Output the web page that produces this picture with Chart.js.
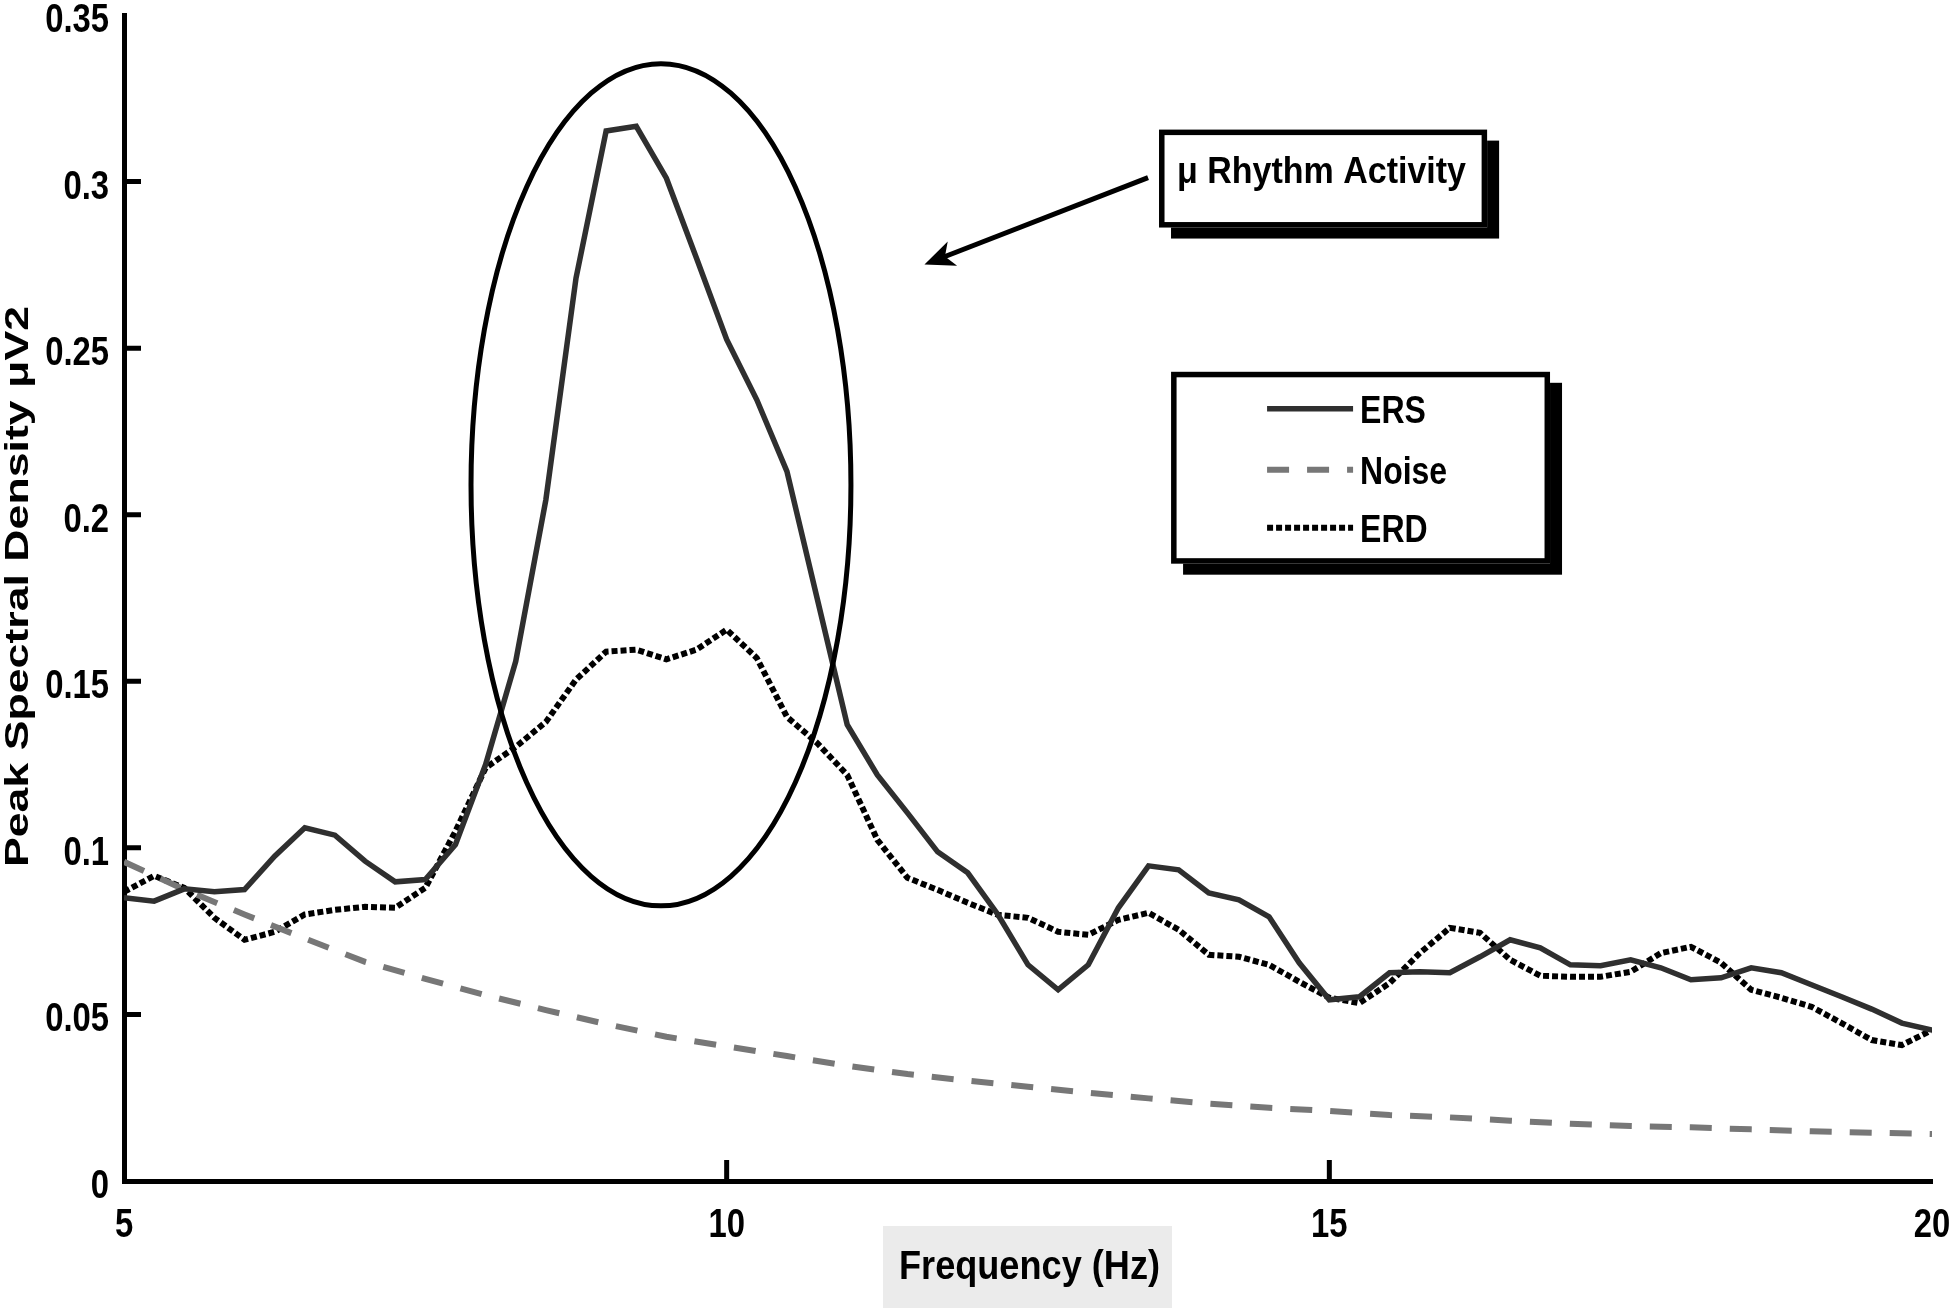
<!DOCTYPE html>
<html>
<head>
<meta charset="utf-8">
<title>Peak Spectral Density</title>
<script src="https://cdn.jsdelivr.net/npm/chart.js@4.4.1/dist/chart.umd.min.js"></script>
<style>
  html, body { margin: 0; padding: 0; background: #fff; }
  canvas { display: block; }
</style>
</head>
<body>
<canvas id="myChart" width="1950" height="1308"></canvas>
<script>
// frequencies (Hz) of the ERS / ERD estimates
const freqs = [5, 5.25, 5.5, 5.75, 6, 6.25, 6.5, 6.75, 7, 7.25, 7.5, 7.75, 8, 8.25, 8.5, 8.75,
  9, 9.25, 9.5, 9.75, 10, 10.25, 10.5, 10.75, 11, 11.25, 11.5, 11.75, 12, 12.25, 12.5, 12.75,
  13, 13.25, 13.5, 13.75, 14, 14.25, 14.5, 14.75, 15, 15.25, 15.5, 15.75, 16, 16.25, 16.5, 16.75,
  17, 17.25, 17.5, 17.75, 18, 18.25, 18.5, 18.75, 19, 19.25, 19.5, 19.75, 20];

const ers = [0.085, 0.084, 0.0877, 0.0868, 0.0875, 0.0975, 0.106, 0.1038, 0.096, 0.0898, 0.0905, 0.101,
  0.125, 0.156, 0.2045, 0.271, 0.3152, 0.3166, 0.301, 0.277, 0.2526, 0.2345, 0.213, 0.175,
  0.137, 0.1219, 0.1105, 0.0988, 0.0925, 0.080, 0.0649, 0.0574, 0.0649, 0.082, 0.0946, 0.0934,
  0.0865, 0.0844, 0.0793, 0.0655, 0.0544, 0.0553, 0.0625, 0.0628, 0.0625, 0.0673, 0.0724, 0.070,
  0.0649, 0.0646, 0.0664, 0.064, 0.0604, 0.061, 0.064, 0.0625, 0.0589, 0.0553, 0.0516, 0.0474, 0.0453];

const erd = [0.0868, 0.0916, 0.088, 0.079, 0.0724, 0.0748, 0.080, 0.0814, 0.0823, 0.082, 0.088, 0.105,
  0.124, 0.1303, 0.1378, 0.1505, 0.1589, 0.1595, 0.1566, 0.1595, 0.1655, 0.157, 0.1393, 0.1315,
  0.1219, 0.1024, 0.091, 0.0874, 0.0835, 0.0799, 0.079, 0.0748, 0.0739, 0.0784, 0.0805, 0.0754,
  0.0679, 0.0673, 0.0649, 0.0598, 0.055, 0.0534, 0.0594, 0.0684, 0.076, 0.0745, 0.0664, 0.0616,
  0.0613, 0.0613, 0.0628, 0.0684, 0.0703, 0.0655, 0.0574, 0.055, 0.0523, 0.0474, 0.0423, 0.0408, 0.0453];

const noiseFreqs = [5, 5.5, 6, 6.5, 7, 7.5, 8, 8.5, 9, 9.5, 10, 10.5, 11, 11.5, 12, 12.5,
  13, 13.5, 14, 14.5, 15, 15.5, 16, 16.5, 17, 17.5, 18, 18.5, 19, 19.5, 20];
const noise = [0.0958, 0.0875, 0.080, 0.0728, 0.0658, 0.0607, 0.0558, 0.0513, 0.0471, 0.0433, 0.0404,
  0.0375, 0.0346, 0.0321, 0.0301, 0.0283, 0.0265, 0.0248, 0.0232, 0.022, 0.021, 0.0198, 0.0191,
  0.0181, 0.0172, 0.0165, 0.0161, 0.0155, 0.0149, 0.0145, 0.0141];

const xTicks = [5, 10, 15, 20];
const xTickLabels = ['5', '10', '15', '20'];
const yTicks = [0, 0.05, 0.1, 0.15, 0.2, 0.25, 0.3, 0.35];
const yTickLabels = ['0', '0.05', '0.1', '0.15', '0.2', '0.25', '0.3', '0.35'];

const xTitle = 'Frequency (Hz)';
const yTitle = 'Peak Spectral Density μV2';
const noteText = 'μ Rhythm Activity';

// annotations, in data units
const ring = { x: 9.455, y: 0.209, rx: 1.576, ry: 0.1264 };
const noteBox = { x0: 13.587, x1: 16.309, y0: 0.3156, y1: 0.2862 };
const arrow = { x0: 13.496, y0: 0.3012, x1: 11.641, y1: 0.2751 };
const legendBox = { x0: 13.687, x1: 16.831, y0: 0.2429, y1: 0.1853 };

const FONT = '"Liberation Sans", Arial, Helvetica, sans-serif';

const toPoints = (xs, ys) => xs.map((x, i) => ({ x: x, y: ys[i] }));

// bold text squeezed sideways (looks like a narrow face)
function narrowText(ctx, text, x, y, size, align, sx) {
  ctx.save();
  ctx.font = 'bold ' + size + 'px ' + FONT;
  ctx.translate(x, y);
  ctx.scale(sx || 0.82, 1);
  ctx.textAlign = align;
  ctx.fillText(text, 0, 0);
  ctx.restore();
}

// text stretched / squeezed to a given width
function fitText(ctx, text, x, y, size, width) {
  ctx.save();
  ctx.font = 'bold ' + size + 'px ' + FONT;
  const w = ctx.measureText(text).width;
  ctx.translate(x, y);
  ctx.scale(width / w, 1);
  ctx.textAlign = 'left';
  ctx.fillText(text, 0, 0);
  ctx.restore();
}

function framedBox(ctx, l, t, r, b) {
  ctx.fillStyle = '#000';
  ctx.fillRect(l + 12, t + 11, r - l, b - t);
  ctx.fillStyle = '#fff';
  ctx.fillRect(l, t, r - l, b - t);
  ctx.strokeStyle = '#000';
  ctx.lineWidth = 5.5;
  ctx.setLineDash([]);
  ctx.strokeRect(l + 2.75, t + 2.75, r - l - 5.5, b - t - 5.5);
}

const extras = {
  id: 'extras',
  afterDatasetsDraw(chart) {
    const { ctx, scales: { x, y } } = chart;
    ctx.save();
    // inward ticks
    ctx.strokeStyle = '#000';
    ctx.lineWidth = 5;
    ctx.beginPath();
    yTicks.slice(1, -1).forEach(v => {
      const py = y.getPixelForValue(v);
      ctx.moveTo(x.left, py);
      ctx.lineTo(x.left + 17, py);
    });
    xTicks.slice(1, -1).forEach(v => {
      const px = x.getPixelForValue(v);
      ctx.moveTo(px, y.bottom);
      ctx.lineTo(px, y.bottom - 21);
    });
    ctx.stroke();

    // ellipse around the mu peak
    const cx = x.getPixelForValue(ring.x);
    const cy = y.getPixelForValue(ring.y);
    const rx = x.getPixelForValue(ring.x + ring.rx) - cx;
    const ry = cy - y.getPixelForValue(ring.y + ring.ry);
    ctx.lineWidth = 5;
    ctx.beginPath();
    ctx.ellipse(cx, cy, rx, ry, 0, 0, Math.PI * 2);
    ctx.stroke();
    ctx.restore();
  },
  afterDraw(chart) {
    const { ctx, scales: { x, y } } = chart;
    ctx.save();
    ctx.fillStyle = '#000';
    ctx.textBaseline = 'alphabetic';

    // tick labels
    yTicks.forEach((v, i) => {
      narrowText(ctx, yTickLabels[i], x.left - 15, y.getPixelForValue(v) + 17, 40, 'right');
    });
    xTicks.forEach((v, i) => {
      narrowText(ctx, xTickLabels[i], x.getPixelForValue(v), y.bottom + 56, 40, 'center');
    });

    // x title with grey backing
    ctx.fillStyle = '#ebebeb';
    ctx.fillRect(883, 1226, 289, 82);
    ctx.fillStyle = '#000';
    fitText(ctx, xTitle, 899, 1279, 41, 261);

    // y title
    ctx.save();
    ctx.translate(28, 587);
    ctx.rotate(-Math.PI / 2);
    fitText(ctx, yTitle, -280, 0, 34, 561);
    ctx.restore();

    // note box + arrow
    const nl = x.getPixelForValue(noteBox.x0), nr = x.getPixelForValue(noteBox.x1);
    const nt = y.getPixelForValue(noteBox.y0), nb = y.getPixelForValue(noteBox.y1);
    framedBox(ctx, nl, nt, nr, nb);
    ctx.fillStyle = '#000';
    fitText(ctx, noteText, nl + 18, nt + 53, 37, 289);

    const ax0 = x.getPixelForValue(arrow.x0), ay0 = y.getPixelForValue(arrow.y0);
    const ax1 = x.getPixelForValue(arrow.x1), ay1 = y.getPixelForValue(arrow.y1);
    const len = Math.hypot(ax0 - ax1, ay0 - ay1);
    const ux = (ax0 - ax1) / len, uy = (ay0 - ay1) / len;
    const vx = -uy, vy = ux;
    ctx.strokeStyle = '#000';
    ctx.lineWidth = 5;
    ctx.beginPath();
    ctx.moveTo(ax0, ay0);
    ctx.lineTo(ax1 + ux * 20, ay1 + uy * 20);
    ctx.stroke();
    ctx.beginPath();
    ctx.moveTo(ax1, ay1);
    ctx.lineTo(ax1 + ux * 30 + vx * 13, ay1 + uy * 30 + vy * 13);
    ctx.lineTo(ax1 + ux * 22, ay1 + uy * 22);
    ctx.lineTo(ax1 + ux * 30 - vx * 13, ay1 + uy * 30 - vy * 13);
    ctx.closePath();
    ctx.fill();

    // legend
    const ll = x.getPixelForValue(legendBox.x0), lr = x.getPixelForValue(legendBox.x1);
    const lt = y.getPixelForValue(legendBox.y0), lb = y.getPixelForValue(legendBox.y1);
    framedBox(ctx, ll, lt, lr, lb);
    const rows = [37, 98, 156];
    chart.data.datasets.forEach((ds, i) => {
      const ry = lt + rows[i];
      ctx.strokeStyle = ds.borderColor;
      ctx.lineWidth = ds.borderWidth;
      ctx.setLineDash(ds.borderDash || []);
      ctx.beginPath();
      ctx.moveTo(ll + 96, ry);
      ctx.lineTo(ll + 182, ry);
      ctx.stroke();
      ctx.fillStyle = '#000';
      narrowText(ctx, ds.label, ll + 189, ry + 14, 39, 'left');
    });
    ctx.restore();
  }
};

const chart = new Chart(document.getElementById('myChart'), {
  type: 'line',
  data: {
    datasets: [
      { label: 'ERS', data: toPoints(freqs, ers), borderColor: '#2f2f2f', borderWidth: 5.5 },
      { label: 'Noise', data: toPoints(noiseFreqs, noise), borderColor: '#777777', borderWidth: 6, borderDash: [22, 18] },
      { label: 'ERD', data: toPoints(freqs, erd), borderColor: '#000000', borderWidth: 6, borderDash: [6, 3] }
    ]
  },
  options: {
    responsive: false,
    animation: false,
    devicePixelRatio: 1,
    elements: { point: { radius: 0 }, line: { tension: 0, borderCapStyle: 'butt' } },
    layout: { padding: { top: 15, right: 18, bottom: 0, left: 0 } },
    plugins: { legend: { display: false }, tooltip: { enabled: false } },
    scales: {
      x: {
        type: 'linear',
        min: 5,
        max: 20,
        afterBuildTicks: s => { s.ticks = xTicks.map(v => ({ value: v })); },
        afterFit: s => { s.height = 127; s.paddingLeft = 0; s.paddingRight = 0; },
        ticks: { display: false },
        grid: { display: false, drawTicks: false },
        border: { display: true, color: '#000', width: 5 }
      },
      y: {
        min: 0,
        max: 0.35,
        afterBuildTicks: s => { s.ticks = yTicks.map(v => ({ value: v })); },
        afterFit: s => { s.width = 124; s.paddingTop = 0; s.paddingBottom = 0; },
        ticks: { display: false },
        grid: { display: false, drawTicks: false },
        border: { display: true, color: '#000', width: 5 }
      }
    }
  },
  plugins: [extras]
});
</script>
</body>
</html>
